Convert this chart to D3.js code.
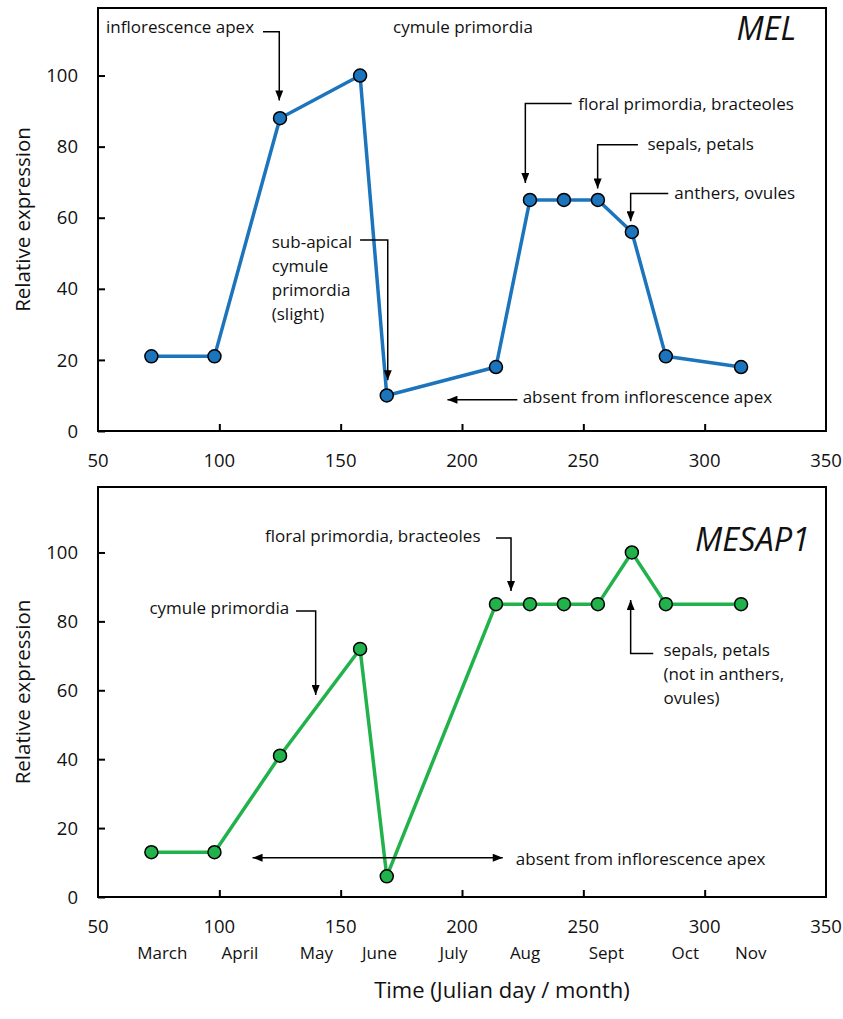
<!DOCTYPE html>
<html>
<head>
<meta charset="utf-8">
<script src="https://cdn.jsdelivr.net/npm/d3@7"></script>
<style>
body { margin: 0; background: #fff; }
text { font-family: "Open Sans", "Noto Sans", sans-serif; fill: #111; }
</style>
</head>
<body>
<script>
// sampling days (julian) and relative expression
var days = [72, 98, 125, 158, 169, 214, 228, 242, 256, 270, 284, 315];
var melValues = [21, 21, 88, 100, 10, 18, 65, 65, 65, 56, 21, 18];
var mesapValues = [13, 13, 41, 72, 6, 85, 85, 85, 85, 100, 85, 85];

var xTicks = [50, 100, 150, 200, 250, 300, 350];
var yTicks = [0, 20, 40, 60, 80, 100];

var months = ["March", "April", "May", "June", "July", "Aug", "Sept", "Oct", "Nov"];
var monthDays = [76.5, 108.5, 140, 166, 196.5, 226, 259.5, 292, 319];

// annotations: text lines anchored at [day, value], arrows as polylines in data units
var melNotes = [
    { lines: ["inflorescence apex"], at: [53.3, 113.6] },
    { lines: ["cymule primordia"], at: [171.6, 113.6] },
    { lines: ["sub-apical", "cymule", "primordia", "(slight)"], at: [121.6, 53.1] },
    { lines: ["floral primordia, bracteoles"], at: [247.9, 91.9] },
    { lines: ["sepals, petals"], at: [276.4, 80.7] },
    { lines: ["anthers, ovules"], at: [287.5, 67.0] },
    { lines: ["absent from inflorescence apex"], at: [225, 9.6] }
];
var melArrows = [
    { pts: [[118, 112.3], [124.7, 112.3], [124.7, 93]], end: true },
    { pts: [[158, 53.7], [169.4, 53.7], [169.4, 14.3]], end: true },
    { pts: [[245.2, 92.1], [226.1, 92.1], [226.1, 69.8]], end: true },
    { pts: [[272.5, 80.5], [255.9, 80.5], [255.9, 68.2]], end: true },
    { pts: [[285, 66.8], [269.5, 66.8], [269.5, 59]], end: true },
    { pts: [[222.8, 8.8], [194, 8.8]], end: true }
];
var mesapNotes = [
    { lines: ["floral primordia, bracteoles"], at: [118.8, 104.7] },
    { lines: ["cymule primordia"], at: [71.2, 84] },
    { lines: ["sepals, petals", "(not in anthers,", "ovules)"], at: [283, 71.7] },
    { lines: ["absent from inflorescence apex"], at: [222.2, 11] }
];
var mesapArrows = [
    { pts: [[214, 104.2], [220.2, 104.2], [220.2, 88.8]], end: true },
    { pts: [[131.6, 83], [139.7, 83], [139.7, 58.6]], end: true },
    { pts: [[278.8, 70.7], [269.5, 70.7], [269.5, 86.2]], end: true },
    { pts: [[113.7, 11.4], [216.8, 11.4]], end: true, start: true }
];

var W = 843, H = 1019;
var svg = d3.select("body").append("svg").attr("width", W).attr("height", H);

var defs = svg.append("defs");
defs.append("marker").attr("id", "ah").attr("viewBox", "0 0 10 8")
    .attr("refX", 10).attr("refY", 4).attr("markerWidth", 11).attr("markerHeight", 8)
    .attr("markerUnits", "userSpaceOnUse").attr("orient", "auto-start-reverse")
    .append("path").attr("d", "M0,0L10,4L0,8Z").attr("fill", "#000");

function drawPanel(top, bottom, values, color, title, notes, arrows, showMonths) {
    var x = d3.scaleLinear().domain([50, 350]).range([98, 826]);
    var y = d3.scaleLinear().domain([0, 119]).range([bottom, top]);
    var g = svg.append("g");

    g.append("rect").attr("x", 98).attr("y", top).attr("width", 826 - 98).attr("height", bottom - top)
        .attr("fill", "none").attr("stroke", "#000").attr("stroke-width", 2);

    // inward ticks
    g.append("g").attr("transform", "translate(98,0)")
        .call(d3.axisRight(y).tickValues(yTicks).tickSize(7).tickFormat(""))
        .call(a => a.select(".domain").remove())
        .selectAll("line").attr("stroke-width", 2);
    g.append("g").attr("transform", "translate(0," + bottom + ")")
        .call(d3.axisTop(x).tickValues(xTicks.slice(1, -1)).tickSize(7).tickFormat(""))
        .call(a => a.select(".domain").remove())
        .selectAll("line").attr("stroke-width", 2);

    g.selectAll(".ylab").data(yTicks).enter().append("text")
        .attr("x", 78).attr("y", d => y(d)).attr("dy", "0.36em")
        .attr("text-anchor", "end").style("font-size", "18.5px").text(d => d);
    g.selectAll(".xlab").data(xTicks).enter().append("text")
        .attr("x", d => x(d)).attr("y", bottom + 36)
        .attr("text-anchor", "middle").style("font-size", "18.5px").text(d => d);

    g.append("text").attr("transform", "translate(30," + (top + bottom) / 2 + ") rotate(-90)")
        .attr("text-anchor", "middle").style("font-size", "20.5px").text("Relative expression");

    var line = d3.line().x((d, i) => x(days[i])).y(d => y(d));
    g.append("path").datum(values).attr("d", line)
        .attr("fill", "none").attr("stroke", color).attr("stroke-width", 3.5).attr("stroke-linejoin", "round");
    g.selectAll(".pt").data(values).enter().append("circle")
        .attr("cx", (d, i) => x(days[i])).attr("cy", d => y(d)).attr("r", 6.5)
        .attr("fill", color).attr("stroke", "#000").attr("stroke-width", 1.5);

    var ln = d3.line().x(d => x(d[0])).y(d => y(d[1]));
    arrows.forEach(function(a) {
        g.append("path").attr("d", ln(a.pts)).attr("fill", "none")
            .attr("stroke", "#000").attr("stroke-width", 1.5)
            .attr("marker-end", a.end ? "url(#ah)" : null)
            .attr("marker-start", a.start ? "url(#ah)" : null);
    });

    notes.forEach(function(n) {
        var t = g.append("text").attr("x", x(n.at[0])).attr("y", y(n.at[1]))
            .style("font-size", "17px");
        n.lines.forEach(function(s, i) {
            t.append("tspan").attr("x", x(n.at[0])).attr("dy", i == 0 ? "0.35em" : "24px").text(s);
        });
    });

    g.append("text").attr("x", title.pos[0]).attr("y", title.pos[1])
        .attr("text-anchor", "end").style("font-size", "32.5px").style("font-style", "italic")
        .text(title.name);

    if (showMonths) {
        g.selectAll(".mon").data(months).enter().append("text")
            .attr("x", (d, i) => x(monthDays[i])).attr("y", bottom + 62)
            .attr("text-anchor", "middle").style("font-size", "17px").text(d => d);
    }
}

drawPanel(8, 431, melValues, "#1c75bc", { name: "MEL", pos: [796, 40] }, melNotes, melArrows, false);
drawPanel(487, 897, mesapValues, "#22b24c", { name: "MESAP1", pos: [810, 551] }, mesapNotes, mesapArrows, true);

svg.append("text").attr("x", 502).attr("y", 998).attr("text-anchor", "middle")
    .style("font-size", "22px").text("Time (Julian day / month)");
</script>
</body>
</html>
